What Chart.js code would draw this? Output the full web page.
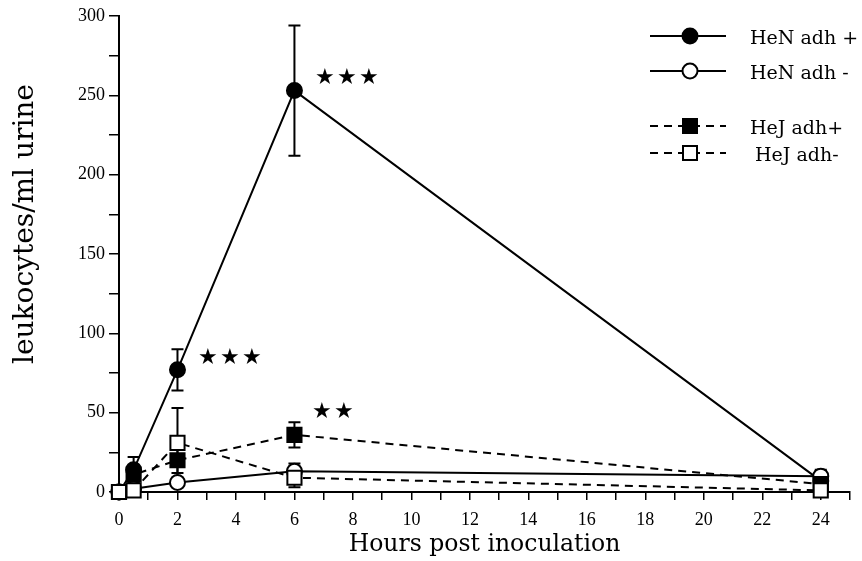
<!DOCTYPE html>
<html>
<head>
<meta charset="utf-8">
<script src="https://cdn.jsdelivr.net/npm/chart.js@4/dist/chart.umd.min.js"></script>
<style>
  html, body { margin: 0; padding: 0; background: #fff; }
  #wrap { width: 862px; height: 561px; }
</style>
</head>
<body>
<div id="wrap"><canvas id="leukoChart" width="862" height="561"></canvas></div>
<script>
// Data
const hours = [0, 0.5, 2, 6, 24];
const henPos = [0, 14, 77, 253, 7];
const henPosErr = [0, 8, 13, 41, 6];
const henNeg = [0, 2, 6, 13, 10];
const henNegErr = [0, 1, 2, 5, 4];
const hejPos = [0, 11, 20, 36, 5];
const hejPosErr = [0, 4, 8, 8, 3];
const hejNeg = [0, 1, 31, 9, 1];
const hejNegErr = [0, 1, 22, 6, 1];

// significance stars: [x, y, count]
const starX = [6.7, 2.7, 6.6];
const starY = [261, 84, 50];
const starCount = [3, 3, 2];

const legendLabels = ['HeN adh +', 'HeN adh -', 'HeJ adh+', 'HeJ adh-'];
const yTitle = 'leukocytes/ml urine';

const serif = '"Liberation Serif", serif';
const wideSerif = '"DejaVu Serif", serif';

function toPoints(ys) {
    return hours.map((h, i) => ({ x: h, y: ys[i] }));
}

function series(label, ys, errs, style, fill, dashed) {
    return {
        label: label,
        data: toPoints(ys),
        errs: errs,
        showLine: true,
        clip: false,
        borderColor: '#000',
        borderWidth: 2,
        borderDash: dashed ? [8, 6] : [],
        pointStyle: style,
        pointRadius: style === 'rect' ? 10 : 7.5,
        pointBackgroundColor: fill,
        pointBorderColor: '#000',
        pointBorderWidth: 2,
        tension: 0,
    };
}

// error bars under the markers
const errorBars = {
    id: 'errorBars',
    beforeDatasetsDraw(chart) {
        const ctx = chart.ctx;
        const xs = chart.scales.x, ys = chart.scales.y;
        ctx.save();
        ctx.strokeStyle = '#000';
        ctx.lineWidth = 2;
        chart.data.datasets.forEach(ds => {
            ds.data.forEach((p, i) => {
                const e = ds.errs[i];
                if (!e) return;
                const px = xs.getPixelForValue(p.x);
                const top = ys.getPixelForValue(p.y + e);
                const bot = ys.getPixelForValue(Math.max(0, p.y - e));
                ctx.beginPath();
                ctx.moveTo(px, top); ctx.lineTo(px, bot);
                ctx.moveTo(px - 6, top); ctx.lineTo(px + 6, top);
                ctx.moveTo(px - 6, bot); ctx.lineTo(px + 6, bot);
                ctx.stroke();
            });
        });
        ctx.restore();
    }
};

const stars = {
    id: 'stars',
    afterDatasetsDraw(chart) {
        const ctx = chart.ctx;
        ctx.save();
        ctx.fillStyle = '#000';
        ctx.font = '22px "DejaVu Sans", sans-serif';
        ctx.textBaseline = 'middle';
        ctx.textAlign = 'left';
        starX.forEach((sx, i) => {
            const px = chart.scales.x.getPixelForValue(sx);
            const py = chart.scales.y.getPixelForValue(starY[i]);
            for (let k = 0; k < starCount[i]; k++) {
                ctx.fillText('\u2605', px + k * 22, py);
            }
        });
        ctx.restore();
    }
};

// y title sits above the axis centre in the original, so draw it by hand
const sideTitle = {
    id: 'sideTitle',
    afterDraw(chart) {
        const ctx = chart.ctx;
        ctx.save();
        ctx.translate(26, 224);
        ctx.rotate(-Math.PI / 2);
        ctx.fillStyle = '#000';
        ctx.font = '28px ' + wideSerif;
        ctx.textAlign = 'center';
        ctx.textBaseline = 'middle';
        ctx.fillText(yTitle, 0, 0);
        ctx.restore();
    }
};

function marker(ctx, kind, x, y) {
    ctx.beginPath();
    if (kind.shape === 'circle') {
        ctx.arc(x, y, 7.5, 0, Math.PI * 2);
    } else {
        ctx.rect(x - 7, y - 7, 14, 14);
    }
    ctx.fillStyle = kind.fill;
    ctx.fill();
    ctx.lineWidth = 2;
    ctx.setLineDash([]);
    ctx.stroke();
}

const sideLegend = {
    id: 'sideLegend',
    afterDraw(chart) {
        const ctx = chart.ctx;
        const rows = [36, 71, 126, 153];
        const kinds = [
            { shape: 'circle', fill: '#000', dash: [] },
            { shape: 'circle', fill: '#fff', dash: [] },
            { shape: 'rect', fill: '#000', dash: [8, 6] },
            { shape: 'rect', fill: '#fff', dash: [8, 6] },
        ];
        ctx.save();
        ctx.strokeStyle = '#000';
        rows.forEach((ry, i) => {
            ctx.lineWidth = 2;
            ctx.setLineDash(kinds[i].dash);
            ctx.beginPath();
            ctx.moveTo(650, ry); ctx.lineTo(726, ry);
            ctx.stroke();
            marker(ctx, kinds[i], 690, ry);
            ctx.fillStyle = '#000';
            ctx.font = '19px ' + wideSerif;
            ctx.textBaseline = 'middle';
            ctx.fillText(legendLabels[i], i === 3 ? 755 : 750, ry + 3);
        });
        ctx.restore();
    }
};

new Chart(document.getElementById('leukoChart').getContext('2d'), {
    type: 'scatter',
    data: {
        datasets: [
            series('HeJ adh-', hejNeg, hejNegErr, 'rect', '#fff', true),
            series('HeJ adh+', hejPos, hejPosErr, 'rect', '#000', true),
            series('HeN adh -', henNeg, henNegErr, 'circle', '#fff', false),
            series('HeN adh +', henPos, henPosErr, 'circle', '#000', false),
        ],
    },
    options: {
        responsive: false,
        animation: false,
        layout: { padding: { left: 0, right: 12, top: 16, bottom: 0 } },
        scales: {
            x: {
                type: 'linear',
                min: 0,
                max: 25,
                afterFit: scale => { scale.height = 69; },
                border: { display: true, color: '#000', width: 2 },
                grid: { drawOnChartArea: false, drawTicks: true, tickLength: 8, color: '#000', lineWidth: 1.5 },
                ticks: {
                    stepSize: 1,
                    color: '#000',
                    padding: 9,
                    maxRotation: 0,
                    autoSkip: false,
                    font: { family: serif, size: 18 },
                    callback: v => (v % 2 === 0 && v <= 24) ? v : '',
                },
                title: {
                    display: true,
                    text: 'Hours post inoculation',
                    color: '#000',
                    font: { family: wideSerif, size: 23.5 },
                    padding: { top: 0, bottom: 2 },
                },
            },
            y: {
                min: 0,
                max: 300,
                afterFit: scale => { scale.width = 119; },
                border: { display: true, color: '#000', width: 2 },
                grid: { drawOnChartArea: false, drawTicks: true, tickLength: 10, color: '#000', lineWidth: 1.5 },
                ticks: {
                    stepSize: 25,
                    color: '#000',
                    padding: 4,
                    autoSkip: false,
                    font: { family: serif, size: 18 },
                    callback: v => v % 50 === 0 ? v : '',
                },
            },
        },
        plugins: {
            legend: { display: false },
            tooltip: { enabled: false },
        },
    },
    plugins: [errorBars, stars, sideLegend, sideTitle],
});
</script>
</body>
</html>
